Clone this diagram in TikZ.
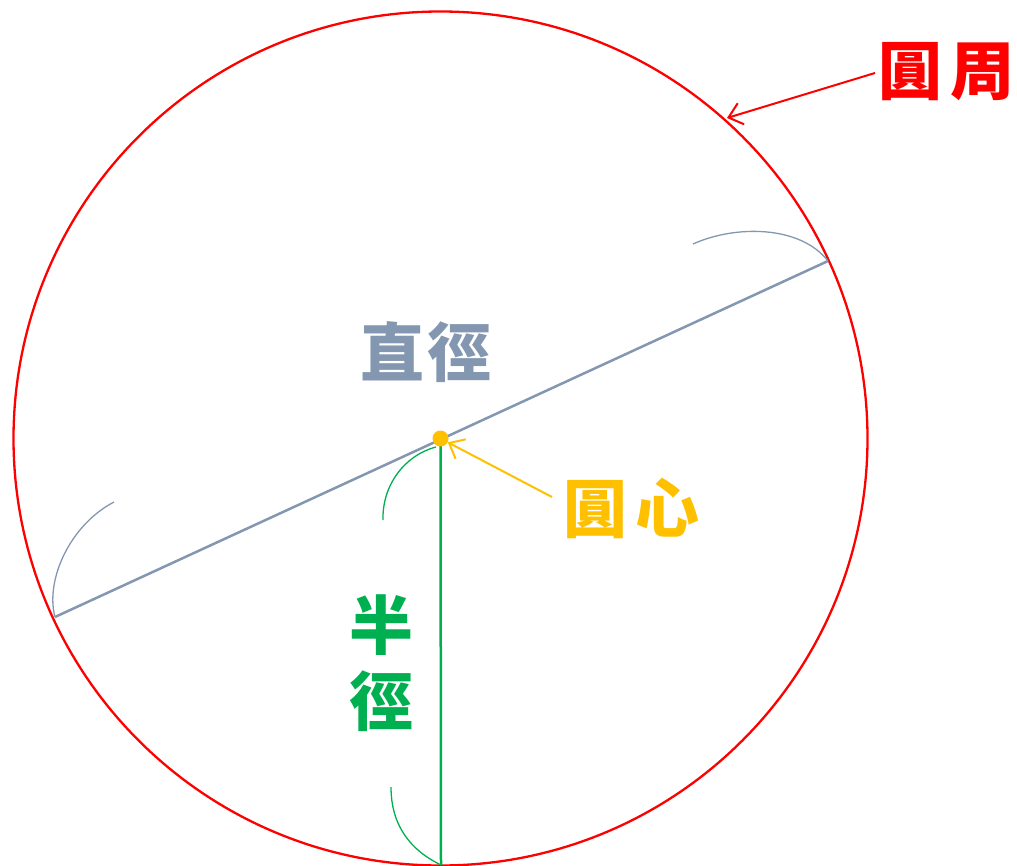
\documentclass[tikz,border=0pt]{standalone}
\usepackage{fontspec}
\newfontfamily\cjk{Noto Sans CJK TC}
\usetikzlibrary{arrows.meta}
\definecolor{cred}{HTML}{FF0000}
\definecolor{cgold}{HTML}{FFC000}
\definecolor{cslate}{HTML}{8497B0}
\definecolor{cgreen}{HTML}{00B050}
\tikzset{
  lbl/.style={inner sep=0pt, font=\cjk\bfseries\fontsize{64}{76}\selectfont},
  thin arc/.style={line width=1.3pt},
  callout/.style={line width=2pt, -{Straight Barb[length=13pt,width=22pt,line width=2pt]}}
}
\begin{document}
\begin{tikzpicture}[x=1pt,y=-1pt]
\path[use as bounding box] (0,0) rectangle (1017,866);
\coordinate (O) at (440.5,438.5);
\coordinate (A) at (828,261);
\coordinate (B) at (55,617);
\coordinate (S) at (441,865);
\coordinate (T) at (727,118);
% circle
\draw[cred, line width=2.3pt] (O) circle[radius=427];
% diameter
\draw[cslate, line width=2.5pt] (B) -- (A);
\draw[cslate, thin arc] (693,244) .. controls (735,225) and (800,225) .. (A);
\draw[cslate, thin arc] (114,502) .. controls (70,525) and (45,580) .. (B);
% radius
\draw[cgreen, line width=2.5pt] (O) -- (S);
\draw[cgreen, thin arc] (436,447) .. controls (405,455) and (382,485) .. (383,520);
\draw[cgreen, thin arc] (391,787) .. controls (391,825) and (410,850) .. (S);
% centre dot
\node[circle, fill=cgold, inner sep=0pt, minimum size=16pt] (dot) at (O) {};
% labels
\node[lbl, text=cred] (zhou) at (946,72) {圓\hspace{8pt}周};
\node[lbl, text=cgold] (xin) at (631,508) {圓\hspace{8pt}心};
\node[lbl, text=cslate] (zhi) at (426,352) {直\hspace{4pt}徑};
\node[lbl, text=cgreen, align=center] (ban) at (381,663) {半\\徑};
% callouts
\coordinate (zs) at (875,73);
\coordinate (xs) at (552,497);
\draw[cred, callout] (zs) -- (T);
\draw[cgold, callout] (xs) -- (dot);
\end{tikzpicture}
\end{document}
